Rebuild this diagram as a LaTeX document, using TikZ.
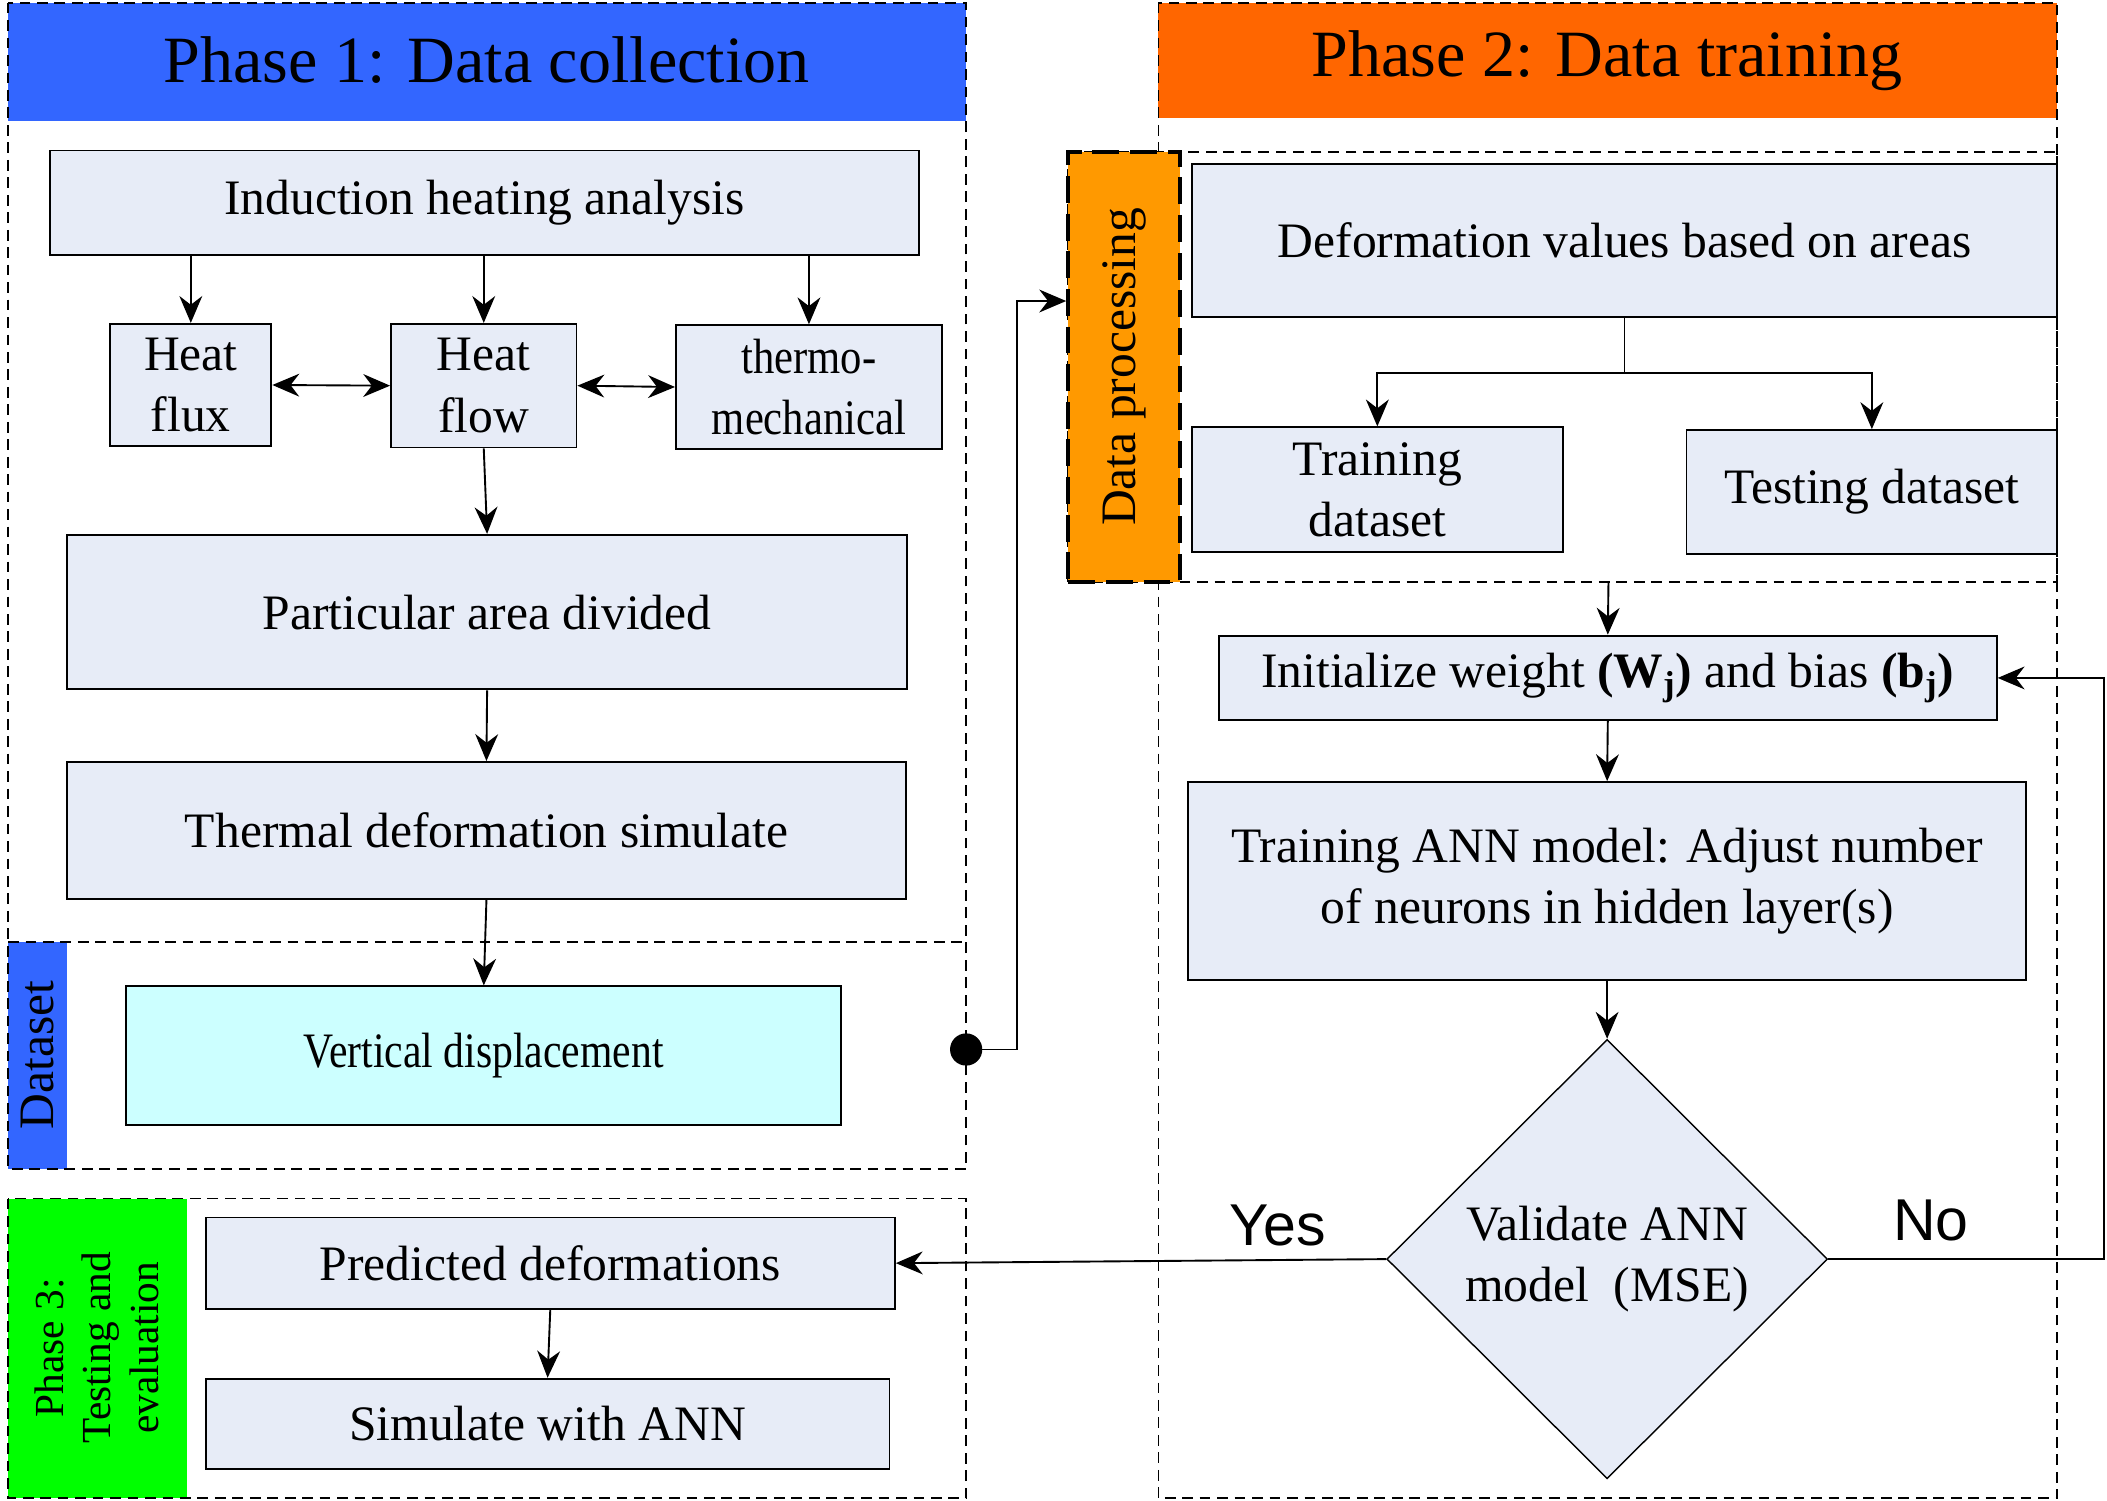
\documentclass[tikz,border=0pt]{standalone}
\usepackage{fontspec}
\setmainfont{Liberation Serif}
\newfontfamily\answerfont{Liberation Sans}
\usetikzlibrary{arrows.meta,positioning,shapes.geometric}
\definecolor{phaseblue}{HTML}{3366FF}
\definecolor{phaseorange}{HTML}{FF6600}
\definecolor{procorange}{HTML}{FF9900}
\definecolor{phasegreen}{HTML}{00FF00}
\definecolor{boxfill}{RGB}{231,236,247}
\definecolor{datacyan}{HTML}{CCFFFF}

\begin{document}
\begin{tikzpicture}
  [x=0.02cm, y=-0.02cm,
   every node/.style={align=center, font=\fontsize{21}{26}\selectfont},
   block/.style={draw, line width=0.8pt, fill=boxfill, inner sep=0pt},
   arrow/.style={-{Stealth[length=0.4cm,width=0.34cm]}, line width=0.8pt},
   twoway/.style={{Stealth[length=0.4cm,width=0.34cm]}-{Stealth[length=0.4cm,width=0.34cm]}, line width=0.8pt},
   panel/.style={draw, dash pattern=on 0.16cm off 0.1cm, line width=0.7pt},
   title/.style={font=\fontsize{28}{33}\selectfont},
   answer/.style={font=\answerfont\fontsize{25}{29}\selectfont}]
  \useasboundingbox (0,0) rectangle (1568,1117);

  \fill[phaseblue] (6,2) rectangle (719,90);
  \fill[phaseblue] (6,701) rectangle (50,870);
  \draw[panel] (6,2) rectangle (719,870);
  \draw[panel] (6,701) -- (719,701);
  \node[title] at (362,45) {Phase 1: Data collection};
  \node[rotate=90] at (28,785) {Dataset};

  \fill[phaseorange] (862,2) rectangle (1531,88);
  \draw[panel] (862,2) rectangle (1531,1115);
  \node[title] at (1196,45) {Phase 2: Data training};
  \draw[panel] (795,113) rectangle (1531,433);
  \node[fill=procorange, draw, line width=1.8pt, dash pattern=on 0.4cm off 0.16cm,
        minimum width=1.66cm, minimum height=6.4cm, inner sep=0pt] (procstrip) at (836.5,273) {};
  \node[rotate=90] at (procstrip) {Data processing};

  \fill[phasegreen] (6,892) rectangle (139,1115);
  \draw[panel] (6,892) rectangle (719,1115);
  \node[rotate=90, font=\fontsize{17.5}{20}\selectfont] at (72,1003) {Phase 3:\\Testing and\\evaluation};

  \node[block, minimum width=12.94cm, minimum height=1.56cm] (ind) at (360.5,151) {Induction heating analysis};
  \node[block, minimum width=2.4cm, minimum height=1.82cm] (flux) at (142,286.5) {Heat\\flux};
  \node[block, minimum width=2.76cm, minimum height=1.84cm] (flow) at (360,287) {Heat\\flow};
  \node[block, minimum width=3.96cm, minimum height=1.84cm] (thermo) at (602,288)
    {\scalebox{0.86}[1]{thermo-}\\\scalebox{0.86}[1]{mechanical}};
  \node[block, minimum width=12.5cm, minimum height=2.3cm] (area) at (362.5,455.5) {Particular area divided};
  \node[block, minimum width=12.48cm, minimum height=2.04cm] (thermal) at (362,618) {Thermal deformation simulate};
  \node[block, fill=datacyan, minimum width=10.64cm, minimum height=2.06cm] (vert) at (360,785.5)
    {\scalebox{0.84}[1]{Vertical displacement}};
  \node[circle, fill, inner sep=0pt, minimum size=0.48cm] (dot) at (719,781) {};

  \node[block, minimum width=12.88cm, minimum height=2.28cm] (deform) at (1209,179) {Deformation values based on areas};
  \node[block, minimum width=5.52cm, minimum height=1.86cm] (train) at (1025,364.5) {Training\\dataset};
  \node[block, minimum width=5.52cm, minimum height=1.84cm] (test) at (1393,366) {Testing dataset};
  \node[block, minimum width=11.58cm, minimum height=1.26cm] (init) at (1196.5,504.5)
    {Initialize weight \textbf{(W\textsubscript{j})} and bias \textbf{(b\textsubscript{j})}};
  \node[block, minimum width=12.48cm, minimum height=2.94cm] (ann) at (1196,655.5)
    {Training ANN model: Adjust number\\of neurons in hidden layer(s)};
  \node[block, diamond, line width=0.6pt, minimum width=6.56cm, minimum height=6.54cm] (valid) at (1196,937)
    {Validate ANN\\model~ (MSE)};

  \node[block, minimum width=10.26cm, minimum height=1.36cm] (pred) at (409.5,940) {Predicted deformations};
  \node[block, minimum width=10.18cm, minimum height=1.34cm] (sim) at (407.5,1059.5) {Simulate with ANN};

  \foreach \n in {flux,flow,thermo}
    \draw[arrow] (ind.south -| \n.north) -- (\n.north);
  \draw[twoway] (flux.east) -- (flow.west);
  \draw[twoway] (flow.east) -- (thermo.west);
  \draw[arrow] (flow.south) -- (area.north);
  \draw[arrow] (area.south) -- (thermal.north);
  \draw[arrow] (thermal.south) -- (vert.north);

  \coordinate (bend) at (757,224);
  \draw[arrow] (dot.center) -| (bend) -- (bend -| procstrip.west);

  \draw (deform.south) -- ++(0,41) coordinate (split);
  \draw[arrow] (split) -| (train.north);
  \draw[arrow] (split) -| (test.north);
  \coordinate (procbot) at (1197,433);
  \draw[arrow] (procbot) -- (init.north);
  \draw[arrow] (init.south) -- (ann.north);
  \draw[arrow] (ann.south) -- (valid.north);

  \coordinate (noturn) at (1566,937);
  \draw[arrow] (valid.east) -- (noturn) |- (init.east);
  \draw[arrow] (valid.west) -- (pred.east);
  \node[answer] at (951,912) {Yes};
  \node[answer] at (1437,908) {No};
  \draw[arrow] (pred.south) -- (sim.north);
\end{tikzpicture}
\end{document}
